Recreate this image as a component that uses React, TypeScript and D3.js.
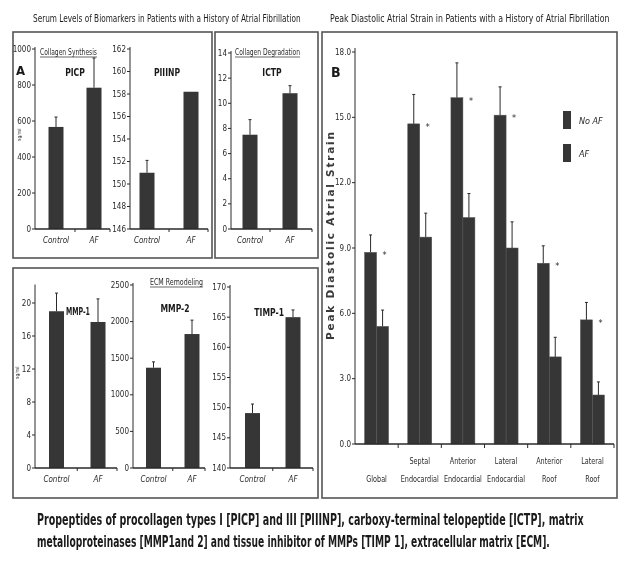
import { useLayoutEffect, useRef, useState } from 'react';
import * as d3 from 'd3';

const FONT = "'Liberation Sans Narrow', 'DejaVu Sans Condensed', 'Arial Narrow', sans-serif";
const BAR = '#363636';
const INK = '#2a2a2a';

// ---- panel A data (Control vs AF) ----
const groups = ['Control', 'AF'];

const picpMean = [567, 785];
const picpErr = [55, 165];
const picpTicks = [0, 200, 400, 600, 800, 1000];

const piiinpMean = [151.0, 158.2];
const piiinpErr = [1.1, 0];
const piiinpTicks = [146, 148, 150, 152, 154, 156, 158, 160, 162];

const ictpMean = [7.5, 10.8];
const ictpErr = [1.2, 0.6];
const ictpTicks = [0, 2, 4, 6, 8, 10, 12, 14];

const mmp1Mean = [19.0, 17.7];
const mmp1Err = [2.2, 2.8];
const mmp1Ticks = [0, 4, 8, 12, 16, 20];

const mmp2Mean = [1370, 1830];
const mmp2Err = [80, 190];
const mmp2Ticks = [0, 500, 1000, 1500, 2000, 2500];

const timp1Mean = [149.1, 165.0];
const timp1Err = [1.5, 1.2];
const timp1Ticks = [140, 145, 150, 155, 160, 165, 170];

// ---- panel B data ----
const regions = ['Global', 'Septal Endocardial', 'Anterior Endocardial', 'Lateral Endocardial', 'Anterior Roof', 'Lateral Roof'];
const regionTop = ['', 'Septal', 'Anterior', 'Lateral', 'Anterior', 'Lateral'];
const regionBottom = ['Global', 'Endocardial', 'Endocardial', 'Endocardial', 'Roof', 'Roof'];
const series = ['No AF', 'AF'];
const noAfMean = [8.8, 14.7, 15.9, 15.1, 8.3, 5.7];
const noAfErr = [0.8, 1.35, 1.6, 1.3, 0.8, 0.8];
const afMean = [5.4, 9.5, 10.4, 9.0, 4.0, 2.25];
const afErr = [0.75, 1.1, 1.1, 1.2, 0.9, 0.6];
const strainTicks = [0, 3, 6, 9, 12, 15, 18];

// narrowed text: to a given width or by a factor; scale mode uses a transform instead of textLength
type FitProps = { x: number; y: number; width?: number; sx?: number; anchor?: string; scale?: boolean; children: string; [k: string]: any };
const FitText = ({ x, y, width, sx, anchor = 'start', scale = false, children, ...rest }: FitProps) => {
  const ref = useRef<SVGTextElement>(null);
  const [fit, setFit] = useState<{ natural: number; target: number } | null>(null);
  useLayoutEffect(() => {
    if (ref.current) {
      const w = ref.current.getComputedTextLength();
      if (w > 0) setFit({ natural: w, target: width ?? w * (sx ?? 1) });
    }
  }, [width, sx, children]);
  if (scale) {
    const k = fit ? fit.target / fit.natural : 1;
    return <text ref={ref} transform={`translate(${x},${y}) scale(${k},1)`} textAnchor={anchor} {...rest}>{children}</text>;
  }
  return (
    <text ref={ref} x={x} y={y} textAnchor={anchor} {...rest}
      {...(fit ? { textLength: fit.target, lengthAdjust: 'spacingAndGlyphs' } : {})}>{children}</text>
  );
};

type MiniProps = {
  axisX: number; top: number; bottom: number; cx: [number, number]; xEnd: number;
  domain: [number, number]; ticks: number[]; mean: number[]; err: number[];
};

const MiniChart = ({ axisX, top, bottom, cx, xEnd, domain, ticks, mean, err }: MiniProps) => {
  const y = d3.scaleLinear().domain(domain).range([bottom, top]);
  const x = d3.scalePoint<string>().domain(groups).range(cx);
  const bw = 15;
  return (
    <g>
      <line x1={axisX} x2={axisX} y1={top - 2} y2={bottom} stroke={INK} strokeWidth={1} />
      {ticks.map(t => (
        <g key={t}>
          <line x1={axisX - 3} x2={axisX} y1={y(t)} y2={y(t)} stroke={INK} />
          <text x={axisX - 4} y={y(t)} dy="0.33em" textAnchor="end" fontSize={8} fill={INK}>{t}</text>
        </g>
      ))}
      {groups.map((g, i) => {
        const bx = (x(g) as number) - bw / 2;
        const ty = y(mean[i]);
        const ey = y(mean[i] + err[i]);
        return (
          <g key={g}>
            <rect x={bx} y={ty} width={bw} height={bottom - ty} fill={BAR} />
            {err[i] > 0 && (
              <g stroke={INK} strokeWidth={1}>
                <line x1={bx + bw / 2} x2={bx + bw / 2} y1={ty} y2={ey} />
                <line x1={bx + bw / 2 - 1.5} x2={bx + bw / 2 + 1.5} y1={ey} y2={ey} />
              </g>
            )}
            <text x={x(g)} y={bottom + 14} textAnchor="middle" fontSize={8} fontStyle="italic" fill={INK}>{g}</text>
          </g>
        );
      })}
      <line x1={axisX} x2={xEnd} y1={bottom} y2={bottom} stroke={INK} strokeWidth={1.5} />
      <line x1={(cx[0] + cx[1]) / 2} x2={(cx[0] + cx[1]) / 2} y1={bottom} y2={bottom + 3} stroke={INK} />
      <line x1={xEnd} x2={xEnd} y1={bottom} y2={bottom + 3} stroke={INK} />
    </g>
  );
};

const Underlined = ({ x, y, w, text }: { x: number; y: number; w: number; text: string }) => (
  <g>
    <FitText x={x} y={y} width={w} fontSize={8} fill={INK}>{text}</FitText>
    <line x1={x} x2={x + w} y1={y + 2} y2={y + 2} stroke={INK} strokeWidth={0.7} />
  </g>
);

const PanelB = () => {
  const x0 = d3.scaleBand<string>().domain(regions).range([355, 614]);
  const x1 = d3.scaleBand<string>().domain(series).range([0, x0.bandwidth()]).paddingOuter(0.8);
  const y = d3.scaleLinear().domain([0, 18]).range([444, 52]);
  const bw = x1.bandwidth();
  const fmt = d3.format('.1f');
  const rows = [
    { key: 'No AF', mean: noAfMean, err: noAfErr },
    { key: 'AF', mean: afMean, err: afErr },
  ];
  return (
    <g>
      <line x1={355} x2={355} y1={48} y2={444} stroke={INK} />
      {strainTicks.map(t => (
        <g key={t}>
          <line x1={352} x2={355} y1={y(t)} y2={y(t)} stroke={INK} />
          <text x={351} y={y(t)} dy="0.33em" textAnchor="end" fontSize={8} fill={INK}>{fmt(t)}</text>
        </g>
      ))}
      {regions.map((r, i) => (
        <g key={r} transform={`translate(${x0(r)},0)`}>
          {rows.map(s => {
            const bx = x1(s.key) as number;
            const ty = y(s.mean[i]);
            const ey = y(s.mean[i] + s.err[i]);
            return (
              <g key={s.key}>
                <rect x={bx} y={ty} width={bw} height={444 - ty} fill={BAR} stroke="#555" strokeWidth={0.5} />
                <line x1={bx + bw / 2} x2={bx + bw / 2} y1={ty} y2={ey} stroke={INK} />
                <line x1={bx + bw / 2 - 1.5} x2={bx + bw / 2 + 1.5} y1={ey} y2={ey} stroke={INK} />
              </g>
            );
          })}
          <text x={(x1('AF') as number) + bw / 2 + 2} y={y(noAfMean[i]) + 6} textAnchor="middle" fontSize={9} fill={INK}>*</text>
          {regionTop[i] && (
            <FitText x={x0.bandwidth() / 2} y={464} sx={0.8} anchor="middle" fontSize={9} fill={INK}>{regionTop[i]}</FitText>
          )}
          <FitText x={x0.bandwidth() / 2} y={482} sx={0.8} anchor="middle" fontSize={9} fill={INK}>{regionBottom[i]}</FitText>
        </g>
      ))}
      <line x1={355} x2={614} y1={444} y2={444} stroke={INK} strokeWidth={1.5} />
      {regions.slice(1).map(r => (
        <line key={r} x1={x0(r)} x2={x0(r)} y1={444} y2={448} stroke={INK} />
      ))}
      <line x1={614} x2={614} y1={444} y2={448} stroke={INK} />
      {series.map((s, i) => (
        <g key={s}>
          <rect x={563} y={111 + i * 33} width={8} height={18} fill={BAR} />
          <text x={579} y={124 + i * 33} fontSize={9} fontStyle="italic" fill={INK}>{s}</text>
        </g>
      ))}
      <text transform="translate(334,236) rotate(-90)" textAnchor="middle" fontSize={10.5} fontWeight="bold"
        fill="#3a3a3a" fontFamily="'DejaVu Sans', sans-serif" textLength={208} lengthAdjust="spacing">Peak Diastolic Atrial Strain</text>
      <text x={331} y={77} fontSize={14} fontWeight="bold" fill="#1a1a1a">B</text>
    </g>
  );
};

export default function App() {
  return (
    <svg width={620} height={562} style={{ position: 'absolute', left: 0, top: 0, willChange: 'transform' }} fontFamily={FONT}>
      <g style={{ opacity: 0.995 }}>
        <rect width={620} height={562} fill="#fff" />
        <FitText x={33} y={22} width={268} scale fontSize={10} fill="#1e1e1e">
          Serum Levels of Biomarkers in Patients with a History of Atrial Fibrillation
        </FitText>
        <FitText x={330} y={22} width={280} scale fontSize={10} fill="#1e1e1e">
          Peak Diastolic Atrial Strain in Patients with a History of Atrial Fibrillation
        </FitText>

        {/* frames */}
        <g fill="none" stroke="#555" strokeWidth={1.6}>
          <rect x={13} y={32} width={199} height={226} />
          <rect x={215} y={32} width={103} height={226} />
          <rect x={13} y={268} width={305} height={230} />
          <rect x={322} y={32} width={295} height={466} />
        </g>

        {/* panel A, top */}
        <text x={16} y={75} fontSize={13} fontWeight="bold" fill="#1a1a1a">A</text>
        <Underlined x={40} y={55} w={57} text="Collagen Synthesis" />
        <Underlined x={235} y={55} w={65} text="Collagen Degradation" />
        <MiniChart axisX={35} top={49} bottom={229} cx={[56, 94]} xEnd={110} domain={[0, 1000]} ticks={picpTicks} mean={picpMean} err={picpErr} />
        <MiniChart axisX={130} top={49} bottom={229} cx={[147, 191]} xEnd={208} domain={[146, 162]} ticks={piiinpTicks} mean={piiinpMean} err={piiinpErr} />
        <MiniChart axisX={231} top={53} bottom={229} cx={[250, 290]} xEnd={312} domain={[0, 14]} ticks={ictpTicks} mean={ictpMean} err={ictpErr} />
        <g fontSize={10} fontWeight="bold" fill="#1a1a1a">
          <FitText x={75} y={76} sx={0.85} anchor="middle">PICP</FitText>
          <FitText x={167} y={76} sx={0.85} anchor="middle">PIIINP</FitText>
          <FitText x={272} y={76} sx={0.85} anchor="middle">ICTP</FitText>
        </g>
        <text transform="translate(21,135) rotate(-90)" fontSize={5} fill={INK} textAnchor="middle">ng/ml</text>

        {/* panel A, bottom */}
        <Underlined x={150} y={285} w={53} text="ECM Remodeling" />
        <MiniChart axisX={35} top={286.5} bottom={468} cx={[56.5, 98]} xEnd={117} domain={[0, 22]} ticks={mmp1Ticks} mean={mmp1Mean} err={mmp1Err} />
        <MiniChart axisX={133} top={285} bottom={468} cx={[153.5, 192]} xEnd={205} domain={[0, 2500]} ticks={mmp2Ticks} mean={mmp2Mean} err={mmp2Err} />
        <MiniChart axisX={230} top={287} bottom={468} cx={[252.5, 293]} xEnd={313} domain={[140, 170]} ticks={timp1Ticks} mean={timp1Mean} err={timp1Err} />
        <g fontSize={10} fontWeight="bold" fill="#1a1a1a">
          <FitText x={66} y={315} width={24}>MMP-1</FitText>
          <FitText x={175} y={312} sx={0.85} anchor="middle">MMP-2</FitText>
          <FitText x={284} y={316} sx={0.85} anchor="end">TIMP-1</FitText>
        </g>
        <text transform="translate(19,373) rotate(-90)" fontSize={5} fill={INK} textAnchor="middle">ng/ml</text>

        <PanelB />

        {/* caption */}
        <g fontSize={15} fontWeight="bold" fill="#1a1a1a">
          <FitText x={37} y={525} width={547} scale>
            Propeptides of procollagen types I [PICP] and III [PIIINP], carboxy-terminal telopeptide [ICTP], matrix
          </FitText>
          <FitText x={37} y={547} width={513} scale>
            metalloproteinases [MMP1and 2] and tissue inhibitor of MMPs [TIMP 1], extracellular matrix [ECM].
          </FitText>
        </g>
      </g>
    </svg>
  );
}
